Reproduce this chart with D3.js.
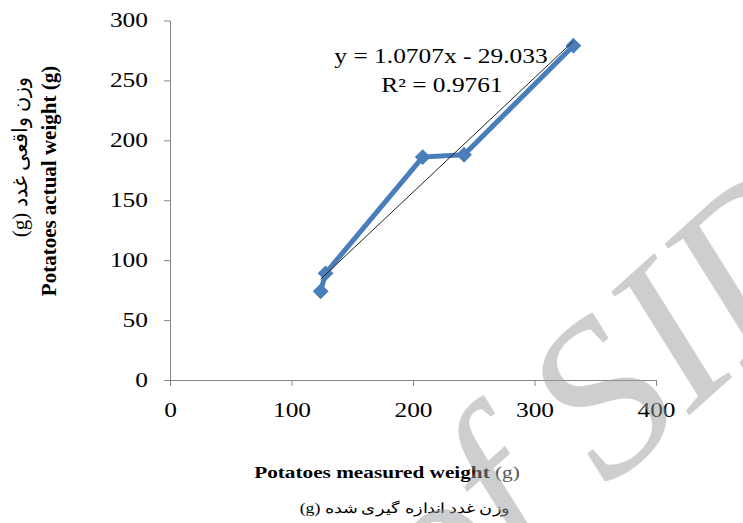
<!DOCTYPE html>
<html><head><meta charset="utf-8">
<script src="https://cdn.jsdelivr.net/npm/d3@7"></script>
<style>html,body{margin:0;padding:0;background:#fff;}svg{display:block;} text{font-family:"Liberation Serif","Times New Roman",serif;}</style>
</head><body>
<svg id="chart" width="743" height="523"></svg>
<script>
const measured = [124, 128, 208, 242, 332];
const actual   = [74, 89, 186, 188, 279];
const xTicks = [0, 100, 200, 300, 400];
const yTicks = [0, 50, 100, 150, 200, 250, 300];
const equationText = "y = 1.0707x - 29.033";
const r2Text = "R² = 0.9761";
const xTitle = "Potatoes measured weight ";
const xTitleFa = "وزن غدد اندازه گیری شده (g)";
const yTitle = "Potatoes actual weight (g)";
const yTitleFa = "وزن واقعی غدد (g)";
const watermark = "of SID";

const svg = d3.select("#chart");
const serif = "Liberation Serif, Times New Roman, serif";
const SX = 1.27; // horizontal stretch seen in the reference text
const x = d3.scaleLinear().domain([0, 400]).range([170, 656]);
const y = d3.scaleLinear().domain([0, 300]).range([380, 20.5]);

// axes
const axisColor = "#868686";
const gx = svg.append("g").attr("transform", `translate(0,${y(0)})`)
  .call(d3.axisBottom(x).tickValues(xTicks).tickSize(6).tickPadding(17).tickSizeOuter(0));
const gy = svg.append("g").attr("transform", `translate(${x(0)},0)`)
  .call(d3.axisLeft(y).tickValues(yTicks).tickSize(6).tickPadding(16).tickSizeOuter(0));
[gx, gy].forEach(g => {
  g.attr("font-family", serif).attr("font-size", 20);
  g.select(".domain").attr("stroke", axisColor);
  g.selectAll(".tick line").attr("stroke", axisColor);
  g.selectAll(".tick text").attr("font-family", serif).attr("font-size", 20).attr("fill", "#000")
    .each(function() {
      const t = d3.select(this);
      const tx = +t.attr("x") || 0;
      t.attr("x", 0).attr("transform", `translate(${tx},0) scale(${SX},1)`);
    });
});
gx.select(".domain").attr("d", `M${x(0)-6},0.5H${x(400)}`);

// trendline (least squares from data)
const mx = d3.mean(measured), my = d3.mean(actual);
const slope = d3.sum(measured.map((v,i)=>(v-mx)*(actual[i]-my))) / d3.sum(measured.map(v=>(v-mx)**2));
const icpt = my - slope*mx;
const xmin = d3.min(measured), xmax = d3.max(measured);

// series line
const pts = measured.map((v,i)=>[v, actual[i]]);
svg.append("path").datum(pts)
  .attr("fill","none").attr("stroke","#4a7ebb").attr("stroke-width",5).attr("stroke-linejoin","round")
  .attr("d", d3.line().x(d=>x(d[0])).y(d=>y(d[1])));
svg.selectAll(".mk").data(pts).enter().append("path")
  .attr("d", d3.symbol().type(d3.symbolDiamond2 || d3.symbolDiamond).size(160))
  .attr("transform", d=>`translate(${x(d[0])},${y(d[1])})`)
  .attr("fill","#4a7ebb");

svg.append("line")
  .attr("x1", x(xmin)).attr("y1", y(slope*xmin+icpt))
  .attr("x2", x(xmax)).attr("y2", y(slope*xmax+icpt))
  .attr("stroke","#222").attr("stroke-width",1);

// equation
svg.append("text").attr("transform", `translate(441,63) scale(${SX},1)`).attr("text-anchor","middle")
  .attr("font-family", serif).attr("font-size", 20).text(equationText);
svg.append("text").attr("transform", `translate(442,92) scale(${SX},1)`).attr("text-anchor","middle")
  .attr("font-family", serif).attr("font-size", 20).text(r2Text);

// x titles
const xt = svg.append("text").attr("transform", `translate(387,478) scale(1.25,1)`).attr("text-anchor","middle")
  .attr("font-family", serif).attr("font-size", 17);
xt.append("tspan").attr("font-weight","bold").text(xTitle);
xt.append("tspan").attr("fill","#555").text("(g)");
svg.append("text").attr("transform", `translate(405,513) scale(${SX},1)`).attr("text-anchor","middle")
  .attr("font-family", serif).attr("font-size", 14).attr("direction","rtl").text(xTitleFa);

// y titles
svg.append("text").attr("transform","translate(56,181) rotate(-90)").attr("text-anchor","middle")
  .attr("font-family", serif).attr("font-size", 21).attr("font-weight","bold").text(yTitle);
svg.append("text").attr("transform","translate(27,157) rotate(-90)").attr("text-anchor","middle")
  .attr("font-family", serif).attr("font-size", 21).attr("direction","rtl").text(yTitleFa);

// watermark (semi-transparent, on top)
svg.append("text")
  .attr("transform", "translate(440,640) rotate(-42)")
  .attr("font-family", serif).attr("font-style", "italic")
  .attr("font-size", 220).attr("fill", "#9a9da2").attr("fill-opacity", 0.5)
  .text(watermark);
</script>
</body></html>
